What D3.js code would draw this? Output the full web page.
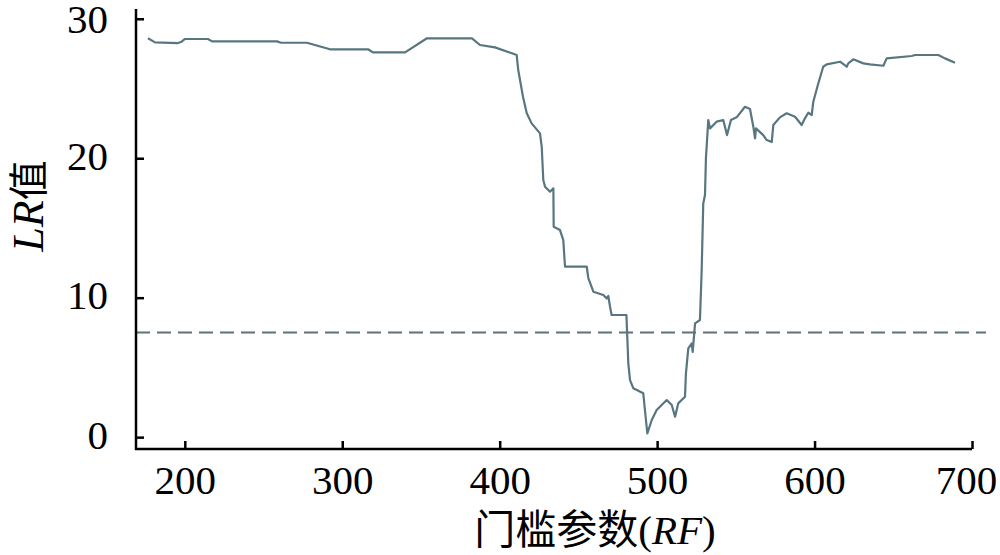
<!DOCTYPE html>
<html>
<head>
<meta charset="utf-8">
<script src="https://cdn.jsdelivr.net/npm/d3@7/dist/d3.min.js"></script>
<style>
  html, body { margin: 0; padding: 0; background: #fff; }
  svg { display: block; }
</style>
</head>
<body>
<svg id="chart" width="1000" height="555"></svg>
<script>
// ---- data ----
const rfValues = [176.6,181.1,195.7,197.6,200.1,214.7,217.3,258.6,261.1,277.6,292.2,316.4,319.5,339.9,353.8,382.4,387.5,397.0,410.8,411.8,414.8,417.2,420.3,425.6,426.7,427.7,428.8,432.0,434.1,434.3,438.3,440.4,441.5,455.3,456.3,459.5,465.8,468.0,469.0,470.1,471.1,480.5,481.7,482.8,484.9,491.2,492.9,493.8,496.6,499.7,506.1,509.3,511.4,513.4,517.7,518.3,519.8,522.0,522.6,524.1,527.2,528.3,529.3,530.4,531.0,532.5,533.6,537.8,542.0,544.4,546.9,550.5,555.8,559.0,561.1,562.2,562.8,567.4,569.6,572.8,573.8,578.0,582.3,587.6,591.8,593.9,596.0,598.2,599.2,602.4,605.5,607.7,616.2,620.4,621.4,624.6,631.0,635.2,643.7,645.8,661.7,663.8,678.6,682.8,689.2];
const lrValues = [28.60,28.31,28.26,28.33,28.55,28.55,28.38,28.38,28.28,28.28,27.81,27.81,27.59,27.59,28.60,28.60,28.12,27.95,27.40,26.32,24.41,23.22,22.50,21.78,20.82,18.44,17.96,17.60,17.84,15.09,14.85,14.13,12.22,12.22,11.41,10.43,10.19,9.95,10.12,9.35,8.76,8.76,5.29,4.09,3.50,3.14,1.23,0.27,1.23,1.94,2.66,2.30,1.46,2.42,2.90,4.57,6.37,6.73,6.12,8.16,8.40,11.98,16.76,17.36,19.99,22.74,22.14,22.62,22.74,21.66,22.74,22.93,23.69,23.53,22.26,21.43,22.14,21.66,21.30,21.16,22.38,22.93,23.22,22.97,22.38,22.86,23.26,23.10,24.05,25.37,26.56,26.73,26.92,26.56,26.80,27.09,26.80,26.73,26.63,27.16,27.33,27.40,27.40,27.16,26.85];
const xTicks = [200, 300, 400, 500, 600, 700];
const yTicks = [0, 10, 20, 30];
const threshold = 7.5;
const xTitleCN = "门槛参数";
const xTitleVar = "RF";
const yTitleVar = "LR";
const yTitleCN = "值";

(function () {
  const svg = d3.select("#chart");
  const mLeft = 136, mRight = 972, mTop = 9, mBottom = 449;
  const x = d3.scaleLinear().domain([169, 700]).range([mLeft, mRight]);
  const y = d3.scaleLinear().domain([-0.85, 30.7]).range([mBottom, mTop]);

  const serif = "'Liberation Serif','Times New Roman',serif";
  const cjk = "'Noto Sans CJK SC','Noto Sans CJK JP',sans-serif";

  // threshold dashed line
  svg.append("line")
    .attr("x1", mLeft).attr("x2", 986)
    .attr("y1", y(threshold)).attr("y2", y(threshold))
    .attr("stroke", "#5e7278").attr("stroke-width", 2)
    .attr("stroke-dasharray", "14,7");

  // data line
  const data = rfValues.map((v, i) => [v, lrValues[i]]);
  svg.append("path")
    .datum(data)
    .attr("fill", "none")
    .attr("stroke", "#587680")
    .attr("stroke-width", 2.2)
    .attr("stroke-linejoin", "round")
    .attr("d", d3.line().x(d => x(d[0])).y(d => y(d[1])));

  // axes
  const xAxis = svg.append("g").attr("transform", `translate(0,${mBottom})`)
    .call(d3.axisBottom(x).tickValues(xTicks).tickSizeInner(-8).tickSizeOuter(0).tickPadding(16));
  const yAxis = svg.append("g").attr("transform", `translate(${mLeft},0)`)
    .call(d3.axisLeft(y).tickValues(yTicks).tickSizeInner(-8).tickSizeOuter(0).tickPadding(28));

  [xAxis, yAxis].forEach(g => {
    g.select(".domain").attr("stroke", "#000").attr("stroke-width", 2.5);
    g.selectAll(".tick line").attr("stroke", "#000").attr("stroke-width", 2.5);
    g.selectAll(".tick text").attr("fill", "#000")
      .style("font-family", serif).style("font-size", "41px");
  });
  xAxis.selectAll(".tick text").filter(d => d === 700).attr("dx", -6);
  yAxis.selectAll(".tick text").attr("dy", "0.32em").attr("y", -2);
  yAxis.selectAll(".tick text").filter(d => d === 30).attr("y", 1);
  yAxis.select(".domain").attr("d", `M0,${mTop}V${mBottom + 1}`);
  xAxis.select(".domain").attr("d", `M${mLeft - 1},0H${mRight}`);

  // x axis title
  const xt = svg.append("text")
    .attr("x", 595).attr("y", 544)
    .attr("text-anchor", "middle")
    .style("font-size", "41px").attr("fill", "#000");
  xt.append("tspan").style("font-family", cjk).text(xTitleCN);
  xt.append("tspan").style("font-family", serif).text("(");
  xt.append("tspan").style("font-family", serif).style("font-style", "italic").text(xTitleVar);
  xt.append("tspan").style("font-family", serif).text(")");

  // y axis title
  const yt = svg.append("text")
    .attr("transform", "translate(43,206) rotate(-90)")
    .attr("text-anchor", "middle")
    .style("font-size", "44px").attr("fill", "#000");
  yt.append("tspan").style("font-family", serif).style("font-style", "italic").text(yTitleVar);
  yt.append("tspan").style("font-family", cjk).style("font-size", "40px").text(yTitleCN);
})();
</script>
</body>
</html>
